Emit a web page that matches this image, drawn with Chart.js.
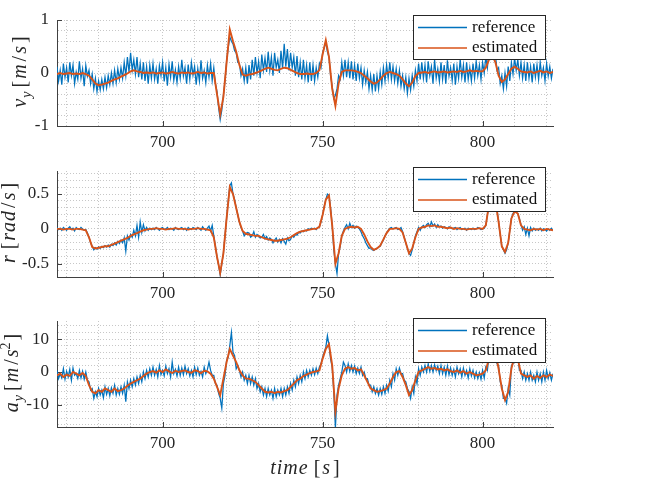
<!DOCTYPE html>
<html>
<head>
<meta charset="utf-8">
<script src="https://cdn.jsdelivr.net/npm/chart.js@4.4.0/dist/chart.umd.min.js"></script>
<style>
  body { margin: 0; background: #fff; }
  #fig { position: relative; width: 658px; height: 490px; }
  #fig canvas { position: absolute; left: 0; }
</style>
</head>
<body>
<div id="fig">
  <canvas id="vyChart" width="658" height="160" style="top:0"></canvas>
  <canvas id="rChart" width="658" height="150" style="top:160px"></canvas>
  <canvas id="ayChart" width="658" height="180" style="top:310px"></canvas>
</div>
<script>
"use strict";

// time axis: reference sampled every 0.5 s, estimate every 1 s
const tStart = 667;
const tEnd = 822;
const refStep = 0.5;
const estStep = 1;

const seriesNames = ["reference", "estimated"];
const timeTickLabels = [700, 750, 800];
const vyTickLabels = [-1, 0, 1];
const rTickLabels = [-0.5, 0, 0.5];
const ayTickLabels = [-10, 0, 10];

// lateral velocity v_y [m/s]
const vyReference = [
  0.12, -0.15, 0.05, -0.22, 0.18, -0.08, 0.1, -0.18, 0.2, -0.05, 0.15, -0.2, 0.02, -0.12, 0.22, -0.1, 0.08, -0.25, 0.14, -0.06,
  0.05, -0.2, -0.02, -0.3, -0.1, -0.35, -0.15, -0.32, -0.12, -0.3, -0.08, -0.28, -0.05, -0.22, 0.0, -0.2, 0.05, -0.18, 0.08, -0.12,
  0.1, -0.1, 0.2, -0.05, 0.3, 0.02, 0.38, 0.05, 0.25, -0.02, 0.3, -0.08, 0.18, -0.12, 0.2, -0.15, 0.12, -0.2, 0.15, -0.1,
  0.18, -0.12, 0.08, -0.2, 0.14, -0.05, 0.2, -0.16, 0.1, -0.24, 0.16, -0.08, 0.22, -0.14, 0.06, -0.18, 0.12, -0.1, 0.25, -0.06,
  0.1, -0.2, 0.16, -0.12, 0.2, -0.04, 0.12, -0.22, 0.08, -0.15, 0.24, -0.1, 0.05, -0.18, 0.15, -0.08, 0.18, -0.14, 0.1, -0.2,
  -0.35, -0.65, -0.88, -0.7, -0.42, -0.15, 0.22, 0.48, 0.68, 0.6, 0.55, 0.42, 0.38, 0.2, 0.18, -0.05, 0.08, -0.15, 0.1, -0.2,
  0.15, -0.12, 0.25, -0.05, 0.3, 0.0, 0.22, -0.1, 0.35, 0.05, 0.28, 0.02, 0.4, 0.05, 0.3, -0.05, 0.38, 0.1, 0.25, 0.0,
  0.42, 0.08, 0.55, 0.12, 0.45, 0.05, 0.38, 0.1, 0.3, -0.05, 0.32, -0.08, 0.2, -0.12, 0.25, -0.1, 0.15, -0.18, 0.2, -0.15,
  0.15, -0.15, 0.1, -0.08, 0.18, 0.1, 0.38, 0.48, 0.58, 0.4, 0.3, -0.05, -0.25, -0.48, -0.42, -0.3, -0.05, -0.12, 0.2, -0.05,
  0.25, -0.08, 0.2, -0.1, 0.22, -0.12, 0.15, -0.15, 0.18, -0.1, 0.1, -0.22, 0.05, -0.18, 0.02, -0.3, -0.05, -0.32, -0.02, -0.35,
  -0.05, -0.3, 0.02, -0.22, 0.1, -0.15, 0.15, -0.1, 0.2, -0.12, 0.12, -0.15, 0.08, -0.2, 0.05, -0.25, -0.05, -0.3, -0.08, -0.38,
  -0.1, -0.32, -0.05, -0.25, 0.05, -0.15, 0.18, -0.12, 0.2, -0.1, 0.15, -0.18, 0.22, -0.05, 0.12, -0.2, 0.25, -0.1, 0.08, -0.16,
  0.2, -0.12, 0.15, -0.2, 0.24, -0.06, 0.1, -0.14, 0.18, -0.22, 0.12, -0.1, 0.26, -0.08, 0.15, -0.18, 0.2, -0.12, 0.1, -0.15,
  0.18, -0.1, 0.22, -0.05, 0.15, -0.12, 0.2, 0.0, 0.3, 0.1, 0.45, 0.3, 0.5, 0.28, 0.35, 0.05, 0.1, -0.2, -0.05, -0.3,
  0.0, -0.25, 0.12, -0.15, 0.2, -0.02, 0.28, 0.05, 0.25, -0.05, 0.2, -0.1, 0.15, -0.15, 0.2, -0.1, 0.12, -0.18, 0.18, -0.08,
  0.15, -0.12, 0.2, -0.05, 0.1, -0.15, 0.18, -0.06, 0.12, -0.1, 0.08
];
const vyEstimated = [
  -0.02, 0.0, -0.02, -0.01, 0.0, -0.02, -0.01, -0.02, 0.0, -0.02,
  -0.05, -0.12, -0.2, -0.23, -0.22, -0.2, -0.18, -0.15, -0.12, -0.1,
  -0.07, -0.04, -0.01, 0.03, 0.05, 0.03, 0.02, 0.0, 0.01, 0.0,
  0.01, -0.01, 0.0, 0.01, -0.01, 0.0, 0.02, 0.0, -0.01, 0.01,
  0.0, 0.01, -0.01, 0.0, 0.02, 0.0, 0.01, -0.01, 0.0, 0.0,
  -0.4, -0.78, -0.45, 0.2, 0.82, 0.6, 0.4, 0.15, -0.03, -0.05,
  -0.03, -0.02, 0.0, 0.02, 0.05, 0.08, 0.1, 0.08, 0.06, 0.05,
  0.08, 0.1, 0.09, 0.06, 0.03, 0.0, -0.02, -0.02, -0.01, -0.02,
  -0.02, 0.0, 0.05, 0.35, 0.62, 0.3, -0.3, -0.62, -0.2, 0.02,
  0.05, 0.05, 0.05, 0.04, 0.02, 0.0, -0.05, -0.1, -0.16, -0.2,
  -0.18, -0.12, -0.05, 0.0, 0.02, 0.0, -0.02, -0.05, -0.12, -0.2,
  -0.25, -0.18, -0.06, 0.0, 0.01, 0.02, 0.0, 0.02, 0.03, 0.01,
  0.02, 0.03, 0.01, 0.02, 0.03, 0.02, 0.04, 0.02, 0.03, 0.05,
  0.03, 0.04, 0.03, 0.03, 0.1, 0.25, 0.34, 0.2, -0.05, -0.17,
  -0.12, -0.02, 0.08, 0.12, 0.08, 0.03, 0.02, 0.01, 0.03, 0.0,
  0.02, 0.04, 0.01, 0.03, 0.0, 0.02
];

// yaw rate r [rad/s]
const rReference = [
  0.02, -0.01, 0.01, -0.02, 0.02, 0.0, -0.02, 0.01, 0.03, -0.01, 0.01, -0.03, 0.02, 0.0, -0.01, 0.02, 0.0, -0.02, -0.01, -0.06,
  -0.12, -0.2, -0.25, -0.3, -0.27, -0.29, -0.26, -0.28, -0.25, -0.27, -0.24, -0.26, -0.23, -0.26, -0.22, -0.24, -0.2, -0.23, -0.18, -0.21,
  -0.16, -0.2, -0.13, -0.32, -0.1, -0.16, -0.08, -0.12, -0.02, -0.1, 0.05, -0.12, 0.1, -0.05, 0.06, -0.03, 0.02, -0.02, 0.01, -0.01,
  0.01, -0.01, 0.02, 0.0, -0.02, 0.01, 0.02, -0.01, 0.0, 0.02, -0.01, 0.01, 0.0, -0.02, 0.02, 0.0, -0.01, 0.01, 0.02, -0.01,
  0.01, -0.02, 0.02, 0.0, -0.01, 0.02, 0.01, -0.01, 0.02, 0.0, -0.02, 0.03, 0.0, -0.02, 0.01, 0.04, -0.03, 0.05, -0.1, -0.25,
  -0.4, -0.52, -0.66, -0.5, -0.35, -0.1, 0.15, 0.4, 0.62, 0.66, 0.5, 0.42, 0.3, 0.2, 0.1, 0.02, -0.03, -0.1, -0.07, -0.05,
  -0.06, -0.12, -0.1, -0.04, -0.12, -0.08, -0.1, -0.13, -0.12, -0.08, -0.14, -0.11, -0.16, -0.13, -0.15, -0.2, -0.16, -0.13, -0.19, -0.15,
  -0.2, -0.14, -0.18, -0.22, -0.13, -0.17, -0.15, -0.1, -0.12, -0.08, -0.09, -0.05, -0.06, -0.03, -0.04, -0.02, -0.03, 0.0, -0.01, 0.01,
  0.0, 0.01, -0.01, 0.02, 0.03, 0.1, 0.2, 0.32, 0.42, 0.5, 0.48, 0.3, 0.05, -0.3, -0.5, -0.64, -0.35, -0.25, -0.1, -0.03,
  0.02, 0.06, 0.0, 0.08, 0.02, 0.05, 0.01, 0.04, 0.02, 0.0, -0.04, -0.1, -0.14, -0.2, -0.24, -0.28, -0.27, -0.3, -0.31, -0.29,
  -0.28, -0.26, -0.25, -0.2, -0.16, -0.1, -0.06, -0.02, 0.01, 0.02, 0.0, 0.01, 0.02, -0.01, 0.0, 0.02, -0.04, -0.12, -0.2, -0.28,
  -0.35, -0.38, -0.3, -0.2, -0.1, -0.04, 0.02, -0.02, 0.03, 0.05, 0.02, 0.06, 0.08, 0.03, 0.1, 0.04, 0.07, 0.02, 0.06, 0.03,
  0.04, 0.01, 0.03, 0.02, 0.0, 0.03, 0.02, 0.0, 0.01, 0.02, -0.01, 0.01, 0.02, -0.01, 0.0, 0.01, -0.02, 0.01, 0.0, -0.01,
  0.01, -0.01, 0.0, 0.02, 0.01, -0.01, 0.0, 0.01, 0.05, 0.2, 0.35, 0.45, 0.52, 0.5, 0.4, 0.28, 0.1, -0.08, -0.25, -0.3,
  -0.35, -0.3, -0.2, -0.02, 0.15, 0.22, 0.26, 0.24, 0.22, 0.15, 0.06, -0.02, 0.03, -0.08, 0.01, -0.1, 0.02, -0.03, 0.01, -0.02,
  0.0, -0.02, 0.01, -0.03, 0.0, -0.01, -0.03, 0.0, -0.02, 0.01, -0.02
];
const rEstimated = [
  0.0, 0.0, -0.01, 0.0, 0.0, -0.01, 0.0, 0.0, -0.01, -0.02,
  -0.12, -0.26, -0.28, -0.27, -0.26, -0.25, -0.25, -0.23, -0.21, -0.19,
  -0.17, -0.15, -0.13, -0.1, -0.08, -0.06, -0.04, -0.02, -0.01, 0.0,
  0.0, 0.01, 0.0, 0.0, -0.01, 0.0, 0.0, 0.01, 0.0, 0.0,
  0.0, -0.01, 0.0, 0.0, 0.01, 0.0, 0.0, -0.01, -0.02, -0.12,
  -0.4, -0.63, -0.35, 0.15, 0.6, 0.5, 0.3, 0.1, -0.03, -0.07,
  -0.08, -0.09, -0.1, -0.1, -0.12, -0.14, -0.15, -0.16, -0.17, -0.17,
  -0.16, -0.15, -0.14, -0.12, -0.09, -0.06, -0.04, -0.03, -0.02, -0.01,
  0.0, 0.0, 0.03, 0.2, 0.42, 0.48, 0.05, -0.5, -0.35, -0.1,
  0.0, 0.02, 0.03, 0.02, 0.03, 0.0, -0.08, -0.18, -0.26, -0.3,
  -0.28, -0.24, -0.15, -0.06, 0.0, 0.0, 0.01, 0.0, -0.05, -0.2,
  -0.35, -0.28, -0.12, 0.0, 0.02, 0.03, 0.05, 0.04, 0.05, 0.03,
  0.03, 0.02, 0.01, 0.02, 0.0, 0.01, 0.0, 0.0, -0.01, 0.0,
  0.0, 0.0, 0.01, 0.0, 0.05, 0.35, 0.5, 0.4, 0.1, -0.25,
  -0.33, -0.2, 0.15, 0.25, 0.22, 0.05, 0.0, -0.01, -0.02, 0.0,
  -0.01, 0.0, -0.02, 0.0, -0.01, -0.02
];

// lateral acceleration a_y [m/s^2]
const ayReference = [
  0.5, -2, -0.5, -1.8, 1, -2.2, 0.2, -1.5, 0.8, -2.5, 1.2, -1, -0.5, -2, 0.5, -1.8, 0.2, -2.2, 0, -2.5,
  -3, -5.5, -5, -8, -6, -7.5, -5, -7, -5.5, -7.8, -4.5, -6.8, -5, -7.2, -4.8, -6.5, -4, -7, -5, -6.8,
  -4.5, -6.5, -4, -9, -3, -5, -2.5, -4.5, -2, -4, -1.5, -3.5, -1, -3, 0, -2, 0.5, -1.5, 1, -1,
  1.5, -1, 0.8, -1.5, 2, -0.8, 0.5, -1.2, 1.8, -0.5, 1, -1.5, 3, -0.5, 0.8, -1.2, 1.5, -1, 1.2, -0.8,
  1.8, -0.5, 1, -1.2, 0.5, -1.5, 1.5, -0.8, 1.2, -1, 0.2, -1.5, 1.5, -0.5, 0.8, 3, 0.5, -1, -1, -3.5,
  -4, -6.5, -8, -11, -3.5, -1, 3.5, 4.5, 8, 12, 6, 5, 1, 2, 0.5, -1.5, 0, -2.5, -1, -3.5,
  -1, -3.5, -1.5, -4, -2, -5, -3.5, -6, -4.5, -7, -5, -7.5, -5, -7, -5.5, -8, -5, -7.5, -5.5, -7,
  -5, -7.5, -5, -7, -4.5, -6.5, -3.5, -5.5, -2.5, -4.5, -1.5, -3.5, -1, -3, 0, -2, 0.5, -1.5, 0.5, -1,
  1, -0.8, 1.2, -0.5, 1.5, 2.5, 4.5, 6, 7.5, 11, 8, 4, 1.5, -6, -17, -7, -4, -2, 0, 3,
  2, 0, 2.5, 0.2, 2, 0, 1.8, -0.5, 1.2, -0.5, 1.5, -1, 0, -2, -2, -4, -4, -6, -4.5, -6.5,
  -5, -7, -5, -6.8, -4.5, -6.5, -4, -5.8, -2.5, -4.5, -0.5, -2.5, 1, -1, 1.2, -0.5, -0.5, -2.5, -3, -5,
  -6, -8, -4.5, -6.5, -1.5, -3.5, 1, -1, 1.5, 0, 2, 0, 2.5, 0.2, 2, 0, 2.2, 0.5, 1.8, -0.5,
  2, -0.5, 1.5, -1, 1.8, -0.8, 1.2, -1, 0.8, -1.5, 1.5, -0.5, 1, -1.5, 1.2, -1, 0.5, -1.8, 1, -1.2,
  0.5, -1.8, 0, -2, -0.2, -2.2, 0.5, -1.8, 1.5, 0.5, 5, 4.5, 8, 6, 7, 2.5, 2, -3, -4, -8,
  -8, -9.5, -5, -7, 2, 2.5, 6, 3.5, 5, 0.5, 0.5, -2, 0, -2.5, -0.5, -2.5, 0, -2.5, -1, -3,
  0, -2.5, -0.5, -3, 0, -2.5, 0.5, -2, -0.2, -2.5, -0.5
];
const ayEstimated = [
  -1, -0.5, -1.5, -0.8, -1.2, 0, -0.5, -1, -0.3, -1.2,
  -4, -6, -6.5, -5.5, -6, -5, -5.5, -6, -5, -5.8,
  -5.5, -5, -4.2, -3.5, -3, -2.5, -2, -1.2, -0.5, 0,
  0.3, -0.2, 0.5, 0, 0.8, 0.2, -0.3, 0.4, 0, 0.3,
  0.5, 0, -0.2, 0.5, 0.3, -0.3, 0.4, 0.2, -0.5, -2,
  -4.5, -7, -2, 3, 7, 5, 3, 0.5, -1, -2,
  -2, -2.5, -3, -4, -5, -6, -6.2, -6, -6.4, -6,
  -6.2, -5.8, -5.5, -4.5, -3.5, -2.5, -2, -1.2, -0.8, -0.3,
  0, 0.2, 0.5, 4, 7, 8.5, 2, -12, -5, -1,
  1, 1.5, 1, 1.2, 0.5, 0.8, -1, -3, -5, -5.5,
  -6, -5.8, -5.5, -5, -3.5, -1.5, 0, 0.3, -1.5, -4,
  -7, -5.5, -2.5, 0, 0.5, 1, 1.5, 1, 1.2, 0.8,
  1, 0.5, 0.8, 0.3, 0, 0.5, -0.2, 0.3, -0.5, 0,
  -0.5, -1, -0.8, -0.5, 0.5, 4, 7, 6, 1, -5,
  -8.5, -6, 1, 5, 4, -0.5, -1, -1.5, -1, -2,
  -1.2, -1.8, -1, -1.5, -0.8, -1.2
];

const BLUE = "#0072BD";
const ORANGE = "#D95319";
const AXIS = "#404040";
const INK = "#262626";
const GRID = "rgba(38,38,38,0.26)";
const SERIF = '"Liberation Serif", "DejaVu Serif", serif';
const TITLE_SIZE = 20;

Chart.defaults.font.family = SERIF;

function toPoints(values, step) {
    return values.map((v, i) => ({ x: tStart + i * step, y: v }));
}

function findLabel(list, v) {
    return list.find(l => Math.abs(l - v) < 1e-6);
}

// small LaTeX-like label made of italic / upright pieces (math letters run wide)
function mathFont(p, size) {
    const s = (p.sub || p.sup) ? Math.round(size * 0.7) : size;
    return (p.it ? "italic " : "") + s + "px " + SERIF;
}
function mathWidth(ctx, parts, size) {
    let w = 0;
    parts.forEach(p => {
        ctx.font = mathFont(p, size);
        w += ctx.measureText(p.t).width + (p.gap || 0);
    });
    return w;
}
function drawMath(ctx, parts, size, x, y) {
    parts.forEach(p => {
        ctx.font = mathFont(p, size);
        const dy = p.sub ? size * 0.25 : (p.sup ? -size * 0.4 : 0);
        ctx.fillText(p.t, x, y + dy);
        x += ctx.measureText(p.t).width + (p.gap || 0);
    });
}

const figureExtras = {
    id: "figureExtras",
    beforeDatasetsDraw(chart, args, opts) {
        // MATLAB style inward tick marks
        const { ctx, chartArea: a, scales: { x, y } } = chart;
        ctx.save();
        ctx.strokeStyle = AXIS;
        ctx.lineWidth = 1;
        ctx.beginPath();
        timeTickLabels.forEach(v => {
            const px = Math.round(x.getPixelForValue(v)) + 0.5;
            ctx.moveTo(px, a.bottom);
            ctx.lineTo(px, a.bottom - 5);
        });
        opts.yTicks.forEach(v => {
            const py = Math.round(y.getPixelForValue(v)) + 0.5;
            ctx.moveTo(a.left, py);
            ctx.lineTo(a.left + 5, py);
        });
        ctx.stroke();
        ctx.restore();
    },
    afterDraw(chart, args, opts) {
        const { ctx, chartArea: a } = chart;
        ctx.save();
        ctx.fillStyle = INK;
        ctx.textBaseline = "alphabetic";

        // y title, rotated
        ctx.save();
        ctx.translate(opts.yTitleX, (a.top + a.bottom) / 2 - 1);
        ctx.rotate(-Math.PI / 2);
        const w = mathWidth(ctx, opts.yTitle, TITLE_SIZE);
        drawMath(ctx, opts.yTitle, TITLE_SIZE, -w / 2, 0);
        ctx.restore();

        // x title
        if (opts.xTitle) {
            const xw = mathWidth(ctx, opts.xTitle, TITLE_SIZE);
            drawMath(ctx, opts.xTitle, TITLE_SIZE, (a.left + a.right) / 2 - xw / 2, opts.xTitleY);
        }

        // legend box inside the axes, upper right
        const lg = opts.legend;
        ctx.fillStyle = "#fff";
        ctx.fillRect(lg.x, lg.y, 133, 45);
        ctx.strokeStyle = INK;
        ctx.lineWidth = 1;
        ctx.strokeRect(lg.x + 0.5, lg.y + 0.5, 132, 44);
        chart.data.datasets.forEach((ds, i) => {
            const ry = lg.y + 12.5 + i * 20.5;
            ctx.strokeStyle = ds.borderColor;
            ctx.lineWidth = 1.5;
            ctx.beginPath();
            ctx.moveTo(lg.x + 5, ry);
            ctx.lineTo(lg.x + 54, ry);
            ctx.stroke();
            ctx.fillStyle = "#111";
            ctx.font = "17px " + SERIF;
            ctx.textBaseline = "middle";
            ctx.fillText(ds.label, lg.x + 59, ry);
        });
        ctx.restore();
    }
};

function makePanel(id, cfg) {
    return new Chart(document.getElementById(id), {
        type: "line",
        data: {
            datasets: [
                { label: seriesNames[0], data: toPoints(cfg.ref, refStep), borderColor: BLUE, borderWidth: 1.25, order: 2 },
                { label: seriesNames[1], data: toPoints(cfg.est, estStep), borderColor: ORANGE, borderWidth: 1.9, order: 1 }
            ]
        },
        options: {
            responsive: false,
            animation: false,
            events: [],
            layout: { padding: { top: cfg.padTop, right: 105, left: 0, bottom: 0 } },
            elements: { point: { radius: 0 }, line: { tension: 0 } },
            scales: {
                x: {
                    type: "linear",
                    min: tStart,
                    max: tEnd,
                    afterFit: s => { s.height = cfg.xHeight; s.paddingLeft = 0; s.paddingRight = 0; },
                    ticks: {
                        stepSize: 10, includeBounds: false, autoSkip: false, maxRotation: 0,
                        padding: 6, color: INK, font: { family: SERIF, size: 17 },
                        callback: v => { const l = findLabel(timeTickLabels, v); return l === undefined ? "" : String(l); }
                    },
                    grid: { color: GRID, drawTicks: false },
                    border: { color: AXIS, width: 1, dash: [1, 2] }
                },
                y: {
                    min: cfg.yMin,
                    max: cfg.yMax,
                    afterFit: s => { s.width = 57; s.paddingTop = 0; s.paddingBottom = 0; },
                    ticks: {
                        stepSize: cfg.yStep, includeBounds: false, autoSkip: false,
                        padding: 8, color: INK, font: { family: SERIF, size: 17 },
                        callback: v => { const l = findLabel(cfg.yTicks, v); return l === undefined ? "" : String(l); }
                    },
                    grid: { color: GRID, drawTicks: false },
                    border: { color: AXIS, width: 1, dash: [1, 2] }
                }
            },
            plugins: {
                legend: { display: false },
                tooltip: { enabled: false },
                figureExtras: {
                    yTicks: cfg.yTicks,
                    yTitle: cfg.yTitle,
                    yTitleX: cfg.yTitleX,
                    xTitle: cfg.xTitle,
                    xTitleY: cfg.xTitleY,
                    legend: cfg.legend
                }
            }
        },
        plugins: [figureExtras]
    });
}

makePanel("vyChart", {
    ref: vyReference, est: vyEstimated,
    yMin: -1, yMax: 1, yStep: 0.2, yTicks: vyTickLabels,
    padTop: 20, xHeight: 34,
    yTitleX: 26,
    yTitle: [{ t: "v", it: 1, gap: 1 }, { t: "y", it: 1, sub: 1, gap: 4 }, { t: "[", gap: 2 }, { t: "m", it: 1, gap: 3 }, { t: "/", gap: 2 }, { t: "s", it: 1, gap: 3 }, { t: "]" }],
    legend: { x: 413, y: 15 }
});

makePanel("rChart", {
    ref: rReference, est: rEstimated,
    yMin: -0.69, yMax: 0.83, yStep: 0.1, yTicks: rTickLabels,
    padTop: 11, xHeight: 33,
    yTitleX: 15,
    yTitle: [{ t: "r", it: 1, gap: 6 }, { t: "[", gap: 2 }, { t: "r", it: 1, gap: 1 }, { t: "a", it: 1, gap: 1 }, { t: "d", it: 1, gap: 3 }, { t: "/", gap: 2 }, { t: "s", it: 1, gap: 3 }, { t: "]" }],
    legend: { x: 413, y: 7 }
});

makePanel("ayChart", {
    ref: ayReference, est: ayEstimated,
    yMin: -16.7, yMax: 15.5, yStep: 2, yTicks: ayTickLabels,
    padTop: 11, xHeight: 63,
    yTitleX: 18,
    yTitle: [{ t: "a", it: 1, gap: 1 }, { t: "y", it: 1, sub: 1, gap: 4 }, { t: "[", gap: 2 }, { t: "m", it: 1, gap: 3 }, { t: "/", gap: 2 }, { t: "s", it: 1 }, { t: "2", sup: 1, gap: 2 }, { t: "]" }],
    xTitle: [{ t: "t", it: 1, gap: 1 }, { t: "i", it: 1, gap: 1 }, { t: "m", it: 1, gap: 1 }, { t: "e", it: 1, gap: 6 }, { t: "[", gap: 2 }, { t: "s", it: 1, gap: 3 }, { t: "]" }],
    xTitleY: 164,
    legend: { x: 413, y: 8 }
});
</script>
</body>
</html>
